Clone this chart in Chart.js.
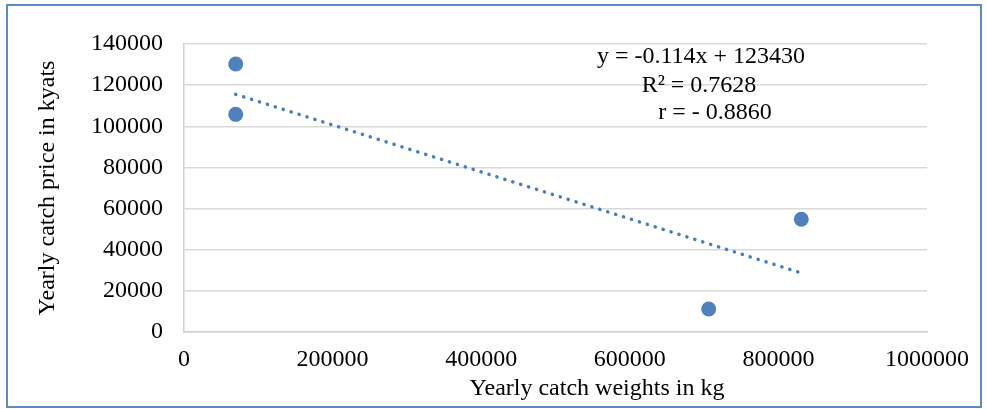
<!DOCTYPE html>
<html>
<head>
<meta charset="utf-8">
<script src="https://cdn.jsdelivr.net/npm/chart.js@4.4.1/dist/chart.umd.min.js"></script>
<style>
  html, body { margin: 0; padding: 0; background: #fff; }
  #wrap { position: relative; width: 987px; height: 409px; }
</style>
</head>
<body>
<div id="wrap"><canvas id="chart"></canvas></div>
<script>
// catch weight (kg) vs catch price (kyats)
const weightsKg = [69600, 69600, 706200, 830800];
const pricesKyats = [130300, 105800, 11200, 54800];

// linear trendline ends, as drawn
const trendX = [69600, 830800];
const trendY = [115500, 28700];

const equationLines = ["y = -0.114x + 123430", "R\u00b2 = 0.7628", "r = - 0.8860"];

const xTitle = "Yearly catch weights in kg";
const yTitle = "Yearly catch price in kyats";

const FONT = "'Liberation Serif', 'Times New Roman', serif";
const BLUE = "#4f81bd";

const decorPlugin = {
    id: "decor",
    beforeDraw(chart) {
        const ctx = chart.ctx;
        ctx.save();
        ctx.fillStyle = "#fff";
        ctx.fillRect(0, 0, chart.width, chart.height);
        ctx.restore();
    },
    afterDraw(chart) {
        const ctx = chart.ctx;
        ctx.save();
        // outer frame
        ctx.strokeStyle = "#5b8ac6";
        ctx.lineWidth = 2;
        ctx.strokeRect(7, 5, 974, 402);

        ctx.fillStyle = "#000";
        ctx.font = "24px " + FONT;
        ctx.textAlign = "center";
        ctx.textBaseline = "middle";

        // trendline label
        ctx.fillText(equationLines[0], 701, 57);
        ctx.fillText(equationLines[1], 699, 86);
        ctx.fillText(equationLines[2], 715, 113);

        // x axis title (Excel puts it off-centre)
        ctx.fillText(xTitle, 597, 389);
        ctx.restore();
    }
};

const points = weightsKg.map((w, i) => ({ x: w, y: pricesKyats[i] }));
const trend = trendX.map((w, i) => ({ x: w, y: trendY[i] }));

new Chart(document.getElementById("chart"), {
    type: "scatter",
    data: {
        datasets: [
            {
                label: "Catch",
                data: points,
                pointRadius: 7.5,
                pointHoverRadius: 7.5,
                pointBackgroundColor: BLUE,
                pointBorderColor: BLUE,
                borderWidth: 0,
                order: 1
            },
            {
                label: "Linear trend",
                data: trend,
                showLine: true,
                pointRadius: 0,
                borderColor: "#4a7ebb",
                borderWidth: 3.5,
                borderDash: [0.1, 8.2],
                borderCapStyle: "round",
                order: 2
            }
        ]
    },
    options: {
        responsive: true,
        maintainAspectRatio: false,
        animation: false,
        events: [],
        layout: {
            padding: { top: 44, right: 60, left: 0, bottom: 0 }
        },
        plugins: {
            legend: { display: false },
            tooltip: { enabled: false }
        },
        scales: {
            x: {
                type: "linear",
                min: 0,
                max: 1000000,
                afterFit: function (scale) { scale.height = 77; },
                grid: { display: false },
                border: { display: true, color: "#d0d0d0", width: 1.5 },
                ticks: {
                    stepSize: 200000,
                    padding: 5,
                    color: "#000",
                    font: { family: FONT, size: 24 },
                    maxRotation: 0,
                    callback: function (value) { return String(value); }
                }
            },
            y: {
                type: "linear",
                min: 0,
                max: 140000,
                afterFit: function (scale) { scale.width = 184; },
                grid: { color: "#d9d9d9", lineWidth: 1.5, drawTicks: false },
                border: { display: true, color: "#d0d0d0", width: 1.5 },
                title: {
                    display: true,
                    text: yTitle,
                    color: "#000",
                    font: { family: FONT, size: 24 },
                    padding: { top: 33, bottom: 0 }
                },
                ticks: {
                    stepSize: 20000,
                    padding: 21,
                    color: "#000",
                    font: { family: FONT, size: 24 },
                    callback: function (value) { return String(value); }
                }
            }
        }
    },
    plugins: [decorPlugin]
});
</script>
</body>
</html>
